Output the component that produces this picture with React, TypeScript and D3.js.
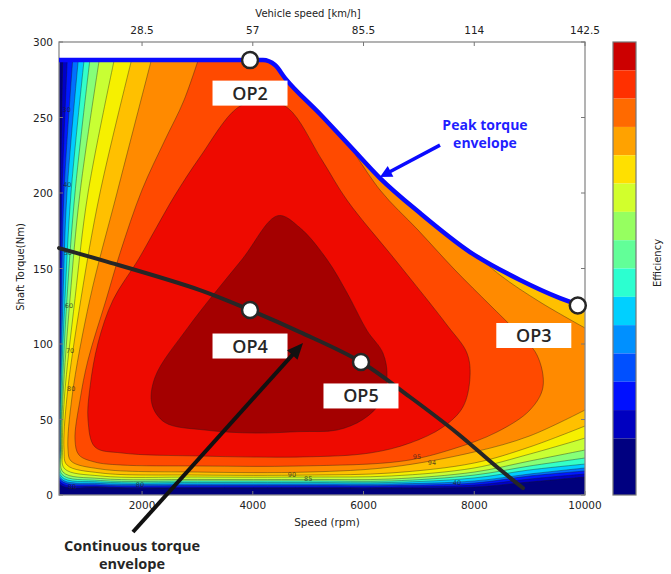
import React from 'react';
import * as d3 from 'd3';

// ---------- axes ----------
const speedTicks = [2000, 4000, 6000, 8000, 10000];
const vehicleSpeedLabels = ['28.5', '57', '85.5', '114', '142.5'];
const torqueTicks = [0, 50, 100, 150, 200, 250, 300];

// ---------- peak torque envelope (rpm, Nm) ----------
const peakRpm = [500, 4184, 4401, 4582, 5214, 5755, 6297, 7020, 7923, 8826, 9548, 10000];
const peakNm = [288, 288, 284.7, 276.1, 252.3, 231.1, 209.9, 186.7, 160.9, 142.4, 130.4, 124.5];

// ---------- continuous torque envelope ----------
const contRpm = [500, 1331, 3046, 3949, 4852, 5954, 6839, 7688, 8410, 8880];
const contNm = [163.5, 154.9, 135.7, 122.5, 107.9, 88.1, 64.9, 41.1, 18.5, 4.6];

// ---------- operating points ----------
const opNames = ['OP2', 'OP3', 'OP4', 'OP5'];
const opRpm = [3950, 9870, 3950, 5954];
const opNm = [288, 125.5, 122.5, 88.1];

// ---------- efficiency contours ----------
// fills: background, 10 low/mid levels, orange-red, red, dark red
const bandFills = ['#00007c', '#0000c8', '#0018ff', '#0070ff', '#00ccff', '#34ffc8', '#86ff78', '#c8ff34', '#f6f000', '#ffc000', '#ff8a00', '#ff4a00', '#ee0a00', '#a40000'];

// lower contour levels: left edge rpm at given torques, a corner, bottom torque at given rpms
const leftTorques = [300, 200, 130, 65, 30];
const bottomRpms = [1250, 3000, 5000, 6500, 8000, 9000, 10000];
const leftRpmByLevel = [
  [572, 527, 509, 504, 502],
  [663, 554, 527, 511, 505],
  [771, 590, 545, 518, 509],
  [879, 644, 572, 527, 518],
  [988, 717, 608, 536, 527],
  [1096, 789, 644, 554, 536],
  [1277, 879, 699, 572, 545],
  [1566, 1024, 789, 599, 563],
  [1891, 1240, 897, 644, 590],
  [2252, 1547, 1060, 735, 663],
];
const cornerRpmByLevel = [509, 518, 527, 536, 545, 554, 572, 599, 644, 717];
const cornerNmByLevel = [7.3, 8.6, 9.9, 10.9, 12.2, 13.6, 15.2, 17.5, 19.9, 22.5];
const bottomNmByLevel = [
  [5.0, 4.6, 4.6, 4.6, 5.3, 8.6, 11.9],
  [5.6, 5.3, 5.3, 5.3, 6.6, 10.6, 13.9],
  [6.6, 6.3, 6.3, 6.3, 7.9, 12.6, 15.9],
  [7.6, 7.3, 7.3, 7.3, 9.3, 13.9, 17.9],
  [8.6, 8.3, 8.3, 8.3, 11.3, 16.6, 20.5],
  [9.6, 9.3, 9.3, 9.3, 13.2, 19.2, 24.5],
  [10.9, 10.3, 10.3, 10.6, 15.2, 22.5, 29.8],
  [12.6, 11.9, 11.9, 12.6, 17.9, 27.1, 37.7],
  [14.6, 13.2, 13.2, 14.6, 21.2, 31.8, 45.7],
  [17.2, 15.2, 15.2, 18.5, 28.5, 39.1, 56.3],
];
// yellow-orange wedge under the envelope at high speed (boundary of orange level)
const wedgeRpm = [7742, 8464, 9187, 10000];
const wedgeNm = [168.8, 145.7, 127.8, 110.6];

// orange-red level boundary (open, ends beyond the envelope)
const orangeRedRpm = [3119, 2758, 2414, 1999, 1602, 1349, 1024, 879, 789, 861, 1150, 1602, 3046, 4852, 6713, 7616, 8410, 9006, 9241, 9133, 8735, 8284, 7652, 6984, 6297, 5575];
const orangeRedNm = [300, 261.5, 235.1, 202.0, 160.2, 129.1, 89.4, 62.9, 36.4, 26.5, 21.8, 19.9, 19.2, 19.2, 22.5, 30.5, 41.7, 56.3, 71.5, 92.7, 109.3, 125.8, 149.0, 175.5, 202.0, 241.7];

// red level (closed)
const redRpm = [4166, 4636, 5250, 5701, 6604, 7507, 7868, 7923, 7796, 7435, 6839, 6117, 4907, 3046, 1638, 1150, 1024, 1060, 1204, 1475, 1927, 2234, 2595, 3046, 3715];
const redNm = [262, 256.2, 221.8, 195.3, 154.3, 112.6, 94.0, 78.1, 58.3, 45.0, 34.4, 27.8, 25.2, 25.8, 27.8, 31.8, 49.7, 71.5, 100.6, 129.1, 155.6, 175.5, 198.6, 223.8, 256.2];

// dark red level (closed)
const darkRedRpm = [4455, 4852, 5340, 5701, 6062, 6351, 6424, 6297, 5990, 5521, 4852, 4040, 3137, 2414, 2180, 2234, 2830, 3805];
const darkRedNm = [185, 177, 156, 134, 109, 94, 78, 61, 50, 43, 42, 41, 43, 48, 60, 78, 111, 156];

// contour labels
const contourLabelText = ['95', '94', '90', '85', '80', '80', '40', '30', '40', '50', '60', '70', '80'];
const contourLabelRpm = [6966, 7236, 4708, 5000, 1963, 735, 7688, 640, 650, 660, 680, 700, 720];
const contourLabelNm = [25.2, 21.2, 13.2, 10.5, 6.6, 5.3, 7.9, 255, 205, 160, 125, 95, 70];

// colorbar (top -> bottom)
const colorbarFills = ['#cc0000', '#ff3000', '#ff6a00', '#ffa200', '#ffe000', '#d2ff2c', '#96ff60', '#62ff98', '#2cffd0', '#00d0ff', '#0090ff', '#0050ff', '#0010ff', '#0000c0', '#000080'];
const colorbarSpans = [1, 1, 1, 1, 1, 1, 1, 1, 1, 1, 1, 1, 1, 1, 2];

type P = [number, number];

export default function App() {
  const L = 59, R = 585, T = 42, B = 495;
  const x = d3.scaleLinear().domain([500, 10000]).range([L, R]);
  const y = d3.scaleLinear().domain([0, 300]).range([B, T]);
  const toPx = (p: P): P => [x(p[0]), y(p[1])];

  const smooth = (pts: P[], closed = false) =>
    d3.line().curve(closed ? d3.curveCatmullRomClosed.alpha(0.5) : d3.curveCatmullRom.alpha(0.5))(pts.map(toPx)) as string;

  const segPath = (segs: { pts: P[]; smooth: boolean }[]) => {
    let d = '';
    segs.forEach((s, i) => {
      if (s.smooth) {
        let part = smooth(s.pts);
        if (i > 0) part = 'L' + part.slice(1);
        d += part;
      } else {
        d += s.pts.map((p, j) => (i === 0 && j === 0 ? 'M' : 'L') + toPx(p).join(',')).join('');
      }
    });
    return d + 'Z';
  };

  // level paths
  const levelPaths: string[] = leftRpmByLevel.map((lr, k) => {
    const curve: P[] = [
      ...leftTorques.map((t, i) => [lr[i], t] as P),
      [cornerRpmByLevel[k], cornerNmByLevel[k]] as P,
      ...bottomRpms.map((r, j) => [r, bottomNmByLevel[k][j]] as P),
    ];
    const last = bottomNmByLevel[k][bottomRpms.length - 1];
    if (k < leftRpmByLevel.length - 1) {
      return segPath([
        { pts: curve, smooth: true },
        { pts: [[10600, last], [10600, 330], [lr[0], 330]], smooth: false },
      ]);
    }
    const wedge: P[] = wedgeRpm.map((r, i) => [r, wedgeNm[i]] as P).reverse();
    return segPath([
      { pts: curve, smooth: true },
      { pts: [[10600, last], [10600, wedge[0][1]]], smooth: false },
      { pts: wedge, smooth: true },
      { pts: [[wedge[wedge.length - 1][0], 330], [lr[0], 330]], smooth: false },
    ]);
  });
  const orPts: P[] = orangeRedRpm.map((r, i) => [r, orangeRedNm[i]] as P);
  levelPaths.push(
    segPath([
      { pts: orPts, smooth: true },
      { pts: [[orPts[orPts.length - 1][0], 330], [orPts[0][0], 330]], smooth: false },
    ])
  );
  levelPaths.push(smooth(redRpm.map((r, i) => [r, redNm[i]] as P), true) + 'Z');
  levelPaths.push(smooth(darkRedRpm.map((r, i) => [r, darkRedNm[i]] as P), true) + 'Z');

  const peakPts: P[] = peakRpm.map((r, i) => [r, peakNm[i]] as P);
  const peakLine = d3.line().curve(d3.curveMonotoneX)(peakPts.map(toPx)) as string;
  const clipD = peakLine + `L${x(10000)},${y(0)}L${x(500)},${y(0)}Z`;
  const contLine = d3.line().curve(d3.curveCatmullRom.alpha(0.5))(contRpm.map((r, i) => toPx([r, contNm[i]]))) as string;

  const labelOffsets: P[] = [[0, 33], [-44, 30], [0, 36], [0, 34]];

  // colorbar scale
  const cbTotal = d3.sum(colorbarSpans);
  const cbY = d3.scaleLinear().domain([0, cbTotal]).range([T, B]);
  const cbStarts = colorbarSpans.map((_, i) => d3.sum(colorbarSpans.slice(0, i)));

  const tickFont = 'DejaVu Sans, sans-serif';
  const annFont = '"Open Sans", Lato, sans-serif';

  // annotation anchors (data coords)
  const blueArrow: P[] = [[7381, 231.7], [6297, 210.6]];
  const blackArrow: P[] = [[1836, -24.5], [4907, 100.6]];

  const arrowHead = (from: P, to: P, len: number, half: number) => {
    const [x1, y1] = toPx(from);
    const [x2, y2] = toPx(to);
    const a = Math.atan2(y2 - y1, x2 - x1);
    const bx = x2 - len * Math.cos(a), by = y2 - len * Math.sin(a);
    const px = -Math.sin(a) * half, py = Math.cos(a) * half;
    return `M${x2},${y2}L${bx + px},${by + py}L${bx - px},${by - py}Z`;
  };
  const shaft = (from: P, to: P, len: number) => {
    const [x1, y1] = toPx(from);
    const [x2, y2] = toPx(to);
    const a = Math.atan2(y2 - y1, x2 - x1);
    return { x1, y1, x2: x2 - len * 0.8 * Math.cos(a), y2: y2 - len * 0.8 * Math.sin(a) };
  };
  const bs = shaft(blueArrow[0], blueArrow[1], 12);
  const ks = shaft(blackArrow[0], blackArrow[1], 16);

  return (
    <div style={{ position: 'absolute', left: 0, top: 0 }}>
      <svg width={671} height={574} style={{ display: 'block', background: '#fff' }}>
        <defs>
          <clipPath id="env">
            <path d={clipD} />
          </clipPath>
        </defs>

        {/* contour fill */}
        <g clipPath="url(#env)">
          <rect x={L} y={T} width={R - L} height={B - T} fill={bandFills[0]} />
          {levelPaths.map((d, i) => (
            <path key={i} d={d} fill={bandFills[i + 1]} stroke="#1a1a1a" strokeOpacity={0.55} strokeWidth={0.7} />
          ))}
          {contourLabelText.map((t, i) => (
            <text key={i} x={x(contourLabelRpm[i])} y={y(contourLabelNm[i])} fontSize={6.5} fontFamily={tickFont} fill="#222" fillOpacity={0.75} textAnchor="middle" dominantBaseline="middle">
              {t}
            </text>
          ))}
        </g>

        {/* frame */}
        <rect x={L} y={T} width={R - L} height={B - T} fill="none" stroke="#8a8a8a" strokeWidth={1.3} />
        {speedTicks.map((s) => (
          <g key={s}>
            <line x1={x(s)} x2={x(s)} y1={B} y2={B - 4} stroke="#777" />
            <line x1={x(s)} x2={x(s)} y1={T} y2={T + 4} stroke="#777" />
          </g>
        ))}
        {torqueTicks.map((t) => (
          <g key={t}>
            <line x1={L} x2={L + 4} y1={y(t)} y2={y(t)} stroke="#777" />
            <line x1={R} x2={R - 4} y1={y(t)} y2={y(t)} stroke="#777" />
          </g>
        ))}

        {/* tick labels */}
        {speedTicks.map((s) => (
          <text key={'b' + s} x={x(s)} y={B + 14} fontSize={10.5} fontFamily={tickFont} fill="#222" textAnchor="middle">
            {s}
          </text>
        ))}
        {speedTicks.map((s, i) => (
          <text key={'t' + s} x={x(s)} y={T - 8} fontSize={10.5} fontFamily={tickFont} fill="#222" textAnchor="middle">
            {vehicleSpeedLabels[i]}
          </text>
        ))}
        {torqueTicks.map((t) => (
          <text key={'l' + t} x={L - 6} y={y(t) + 4} fontSize={10.5} fontFamily={tickFont} fill="#222" textAnchor="end">
            {t}
          </text>
        ))}
        <text x={308} y={17} fontSize={10} fontFamily={tickFont} fill="#222" textAnchor="middle">Vehicle speed [km/h]</text>
        <text x={327} y={526} fontSize={10.5} fontFamily={tickFont} fill="#222" textAnchor="middle">Speed (rpm)</text>
        <text transform={`translate(24,267) rotate(-90)`} fontSize={10} fontFamily={tickFont} fill="#222" textAnchor="middle">Shaft Torque(Nm)</text>

        {/* envelopes */}
        <path d={peakLine} fill="none" stroke="#0a0aff" strokeWidth={4.5} strokeLinejoin="round" />
        <path d={contLine} fill="none" stroke="#262626" strokeWidth={4} strokeLinecap="round" />

        {/* operating points */}
        {opNames.map((n, i) => {
          const [cx, cy] = toPx([opRpm[i], opNm[i]]);
          const [dx, dy] = labelOffsets[i];
          return (
            <g key={n}>
              <rect x={cx + dx - 37.5} y={cy + dy - 12.5} width={75} height={25} fill="#fff" />
              <text x={cx + dx} y={cy + dy + 6.5} fontSize={18} fontWeight={600} fontFamily={annFont} fill="#262626" textAnchor="middle">
                {n}
              </text>
              <circle cx={cx} cy={cy} r={8} fill="#fff" stroke="#262626" strokeWidth={2.5} />
            </g>
          );
        })}

        {/* peak torque annotation */}
        <line x1={bs.x1} y1={bs.y1} x2={bs.x2} y2={bs.y2} stroke="#0a0aff" strokeWidth={3.5} />
        <path d={arrowHead(blueArrow[0], blueArrow[1], 12, 6)} fill="#0a0aff" />
        <text x={485} y={130} fontSize={14} fontWeight={700} fontFamily={annFont} fill="#1f1fff" textAnchor="middle">Peak torque</text>
        <text x={485} y={148} fontSize={14} fontWeight={700} fontFamily={annFont} fill="#1f1fff" textAnchor="middle">envelope</text>

        {/* continuous torque annotation */}
        <line x1={ks.x1} y1={ks.y1} x2={ks.x2} y2={ks.y2} stroke="#111" strokeWidth={4} />
        <path d={arrowHead(blackArrow[0], blackArrow[1], 16, 7)} fill="#111" />
        <text x={132} y={551} fontSize={14.5} fontWeight={700} fontFamily={annFont} fill="#262626" textAnchor="middle">Continuous torque</text>
        <text x={132} y={569} fontSize={14.5} fontWeight={700} fontFamily={annFont} fill="#262626" textAnchor="middle">envelope</text>

        {/* colorbar */}
        {colorbarFills.map((c, i) => (
          <rect key={c + i} x={613} y={cbY(cbStarts[i])} width={23} height={cbY(cbStarts[i] + colorbarSpans[i]) - cbY(cbStarts[i])} fill={c} />
        ))}
        <rect x={613} y={T} width={23} height={B - T} fill="none" stroke="#777" strokeWidth={1.2} />
        <text transform={`translate(661,263) rotate(-90)`} fontSize={10} fontFamily={tickFont} fill="#222" textAnchor="middle">Efficiency</text>
      </svg>
    </div>
  );
}
